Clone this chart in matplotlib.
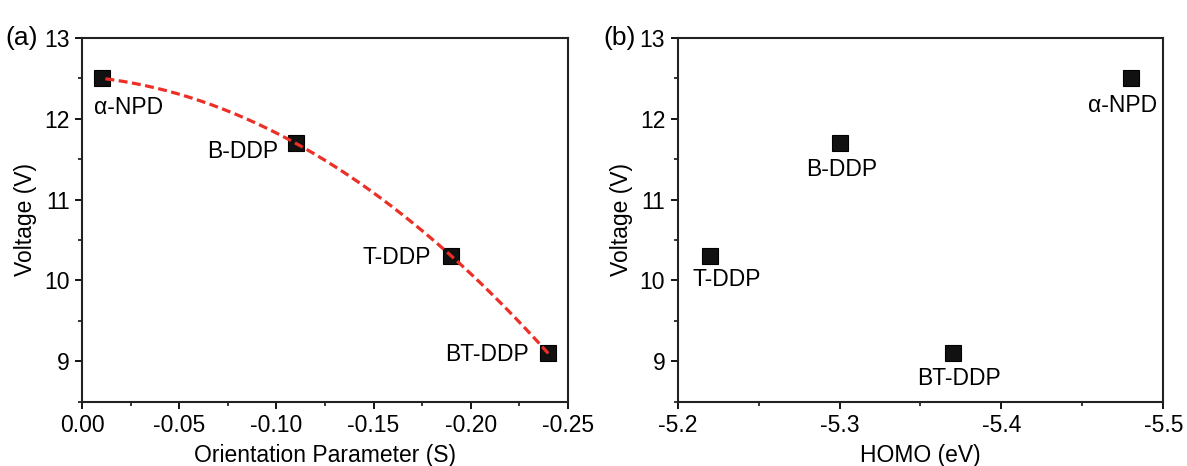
import numpy as np
import matplotlib
matplotlib.use("Agg")
import matplotlib.pyplot as plt
from matplotlib.ticker import MultipleLocator

plt.rcParams['font.family'] = ['Liberation Sans', 'DejaVu Sans']
plt.rcParams['font.size'] = 16

# ---- data ----
names = ['α-NPD', 'B-DDP', 'T-DDP', 'BT-DDP']
orientation_S = [-0.01, -0.11, -0.19, -0.24]
homo_eV = [-5.48, -5.30, -5.22, -5.37]
voltage_V = [12.5, 11.7, 10.3, 9.1]

# label offsets in pixels (dx, dy) and alignment
left_offsets = [(-8, -29, 'left'), (-18, -8, 'right'), (-20, -1, 'right'), (-19, -1, 'right')]
right_offsets = [(-8, -27, 'center'), (2, -26, 'center'), (17, -23, 'center'), (6, -25, 'center')]

W, H = 1187, 466
fig = plt.figure(figsize=(W / 100, H / 100), dpi=100)

ax1 = fig.add_axes([82.3 / W, (H - 401.7) / H, 485.4 / W, 363.7 / H])
ax2 = fig.add_axes([677.7 / W, (H - 401.7) / H, 485.6 / W, 363.7 / H])

red = '#ec2f27'

# quadratic fit through the orientation data (dashed red curve)
coef = np.polyfit(orientation_S, voltage_V, 2)
xs = np.linspace(min(orientation_S), max(orientation_S), 200)
ax1.plot(xs, np.polyval(coef, xs), color=red, lw=2.3, ls=(0, (2.8, 1.4)), zorder=3)
ax1.plot(orientation_S, voltage_V, 's', color='#111111', ms=11.5, mec='#000000', mew=0.8, zorder=2)

ax2.plot(homo_eV, voltage_V, 's', color='#111111', ms=11.5, mec='#000000', mew=0.8, zorder=2)

for n, x, y, (dx, dy, ha) in zip(names, orientation_S, voltage_V, left_offsets):
    ax1.annotate(n, (x, y), xytext=(dx, dy), textcoords='offset pixels',
                 ha=ha, va='center', fontsize=16.5)
for n, x, y, (dx, dy, ha) in zip(names, homo_eV, voltage_V, right_offsets):
    ax2.annotate(n, (x, y), xytext=(dx, dy), textcoords='offset pixels',
                 ha=ha, va='center', fontsize=16.5)

ax1.set_xlim(0.0, -0.25)
ax1.set_ylim(8.5, 13)
ax1.set_xticks([0.0, -0.05, -0.10, -0.15, -0.20, -0.25])
ax1.set_xticklabels(['0.00', '-0.05', '-0.10', '-0.15', '-0.20', '-0.25'])
ax1.xaxis.set_minor_locator(MultipleLocator(0.025))
ax1.set_xlabel('Orientation Parameter (S)', fontsize=16.5, labelpad=5)

ax2.set_xlim(-5.2, -5.5)
ax2.set_ylim(8.5, 13)
ax2.set_xticks([-5.2, -5.3, -5.4, -5.5])
ax2.set_xticklabels(['-5.2', '-5.3', '-5.4', '-5.5'])
ax2.xaxis.set_minor_locator(MultipleLocator(0.05))
ax2.set_xlabel('HOMO (eV)', fontsize=16.5, labelpad=5)

for ax in (ax1, ax2):
    ax.set_yticks([9, 10, 11, 12, 13])
    ax.yaxis.set_minor_locator(MultipleLocator(0.5))
    ax.set_ylabel('Voltage (V)', fontsize=16.5, labelpad=5)
    ax.tick_params(which='major', direction='out', length=5, width=1.3, labelsize=16.5,
                   top=False, right=False, pad=4)
    ax.tick_params(which='minor', direction='out', length=3, width=1.1,
                   top=False, right=False)
    for s in ax.spines.values():
        s.set_linewidth(1.5)
        s.set_color('#222222')

fig.text(5 / W, 1 - 38 / H, '(a)', fontsize=19, va='center', ha='left')
fig.text(603 / W, 1 - 38 / H, '(b)', fontsize=19, va='center', ha='left')

fig.savefig('out.png', dpi=100)
